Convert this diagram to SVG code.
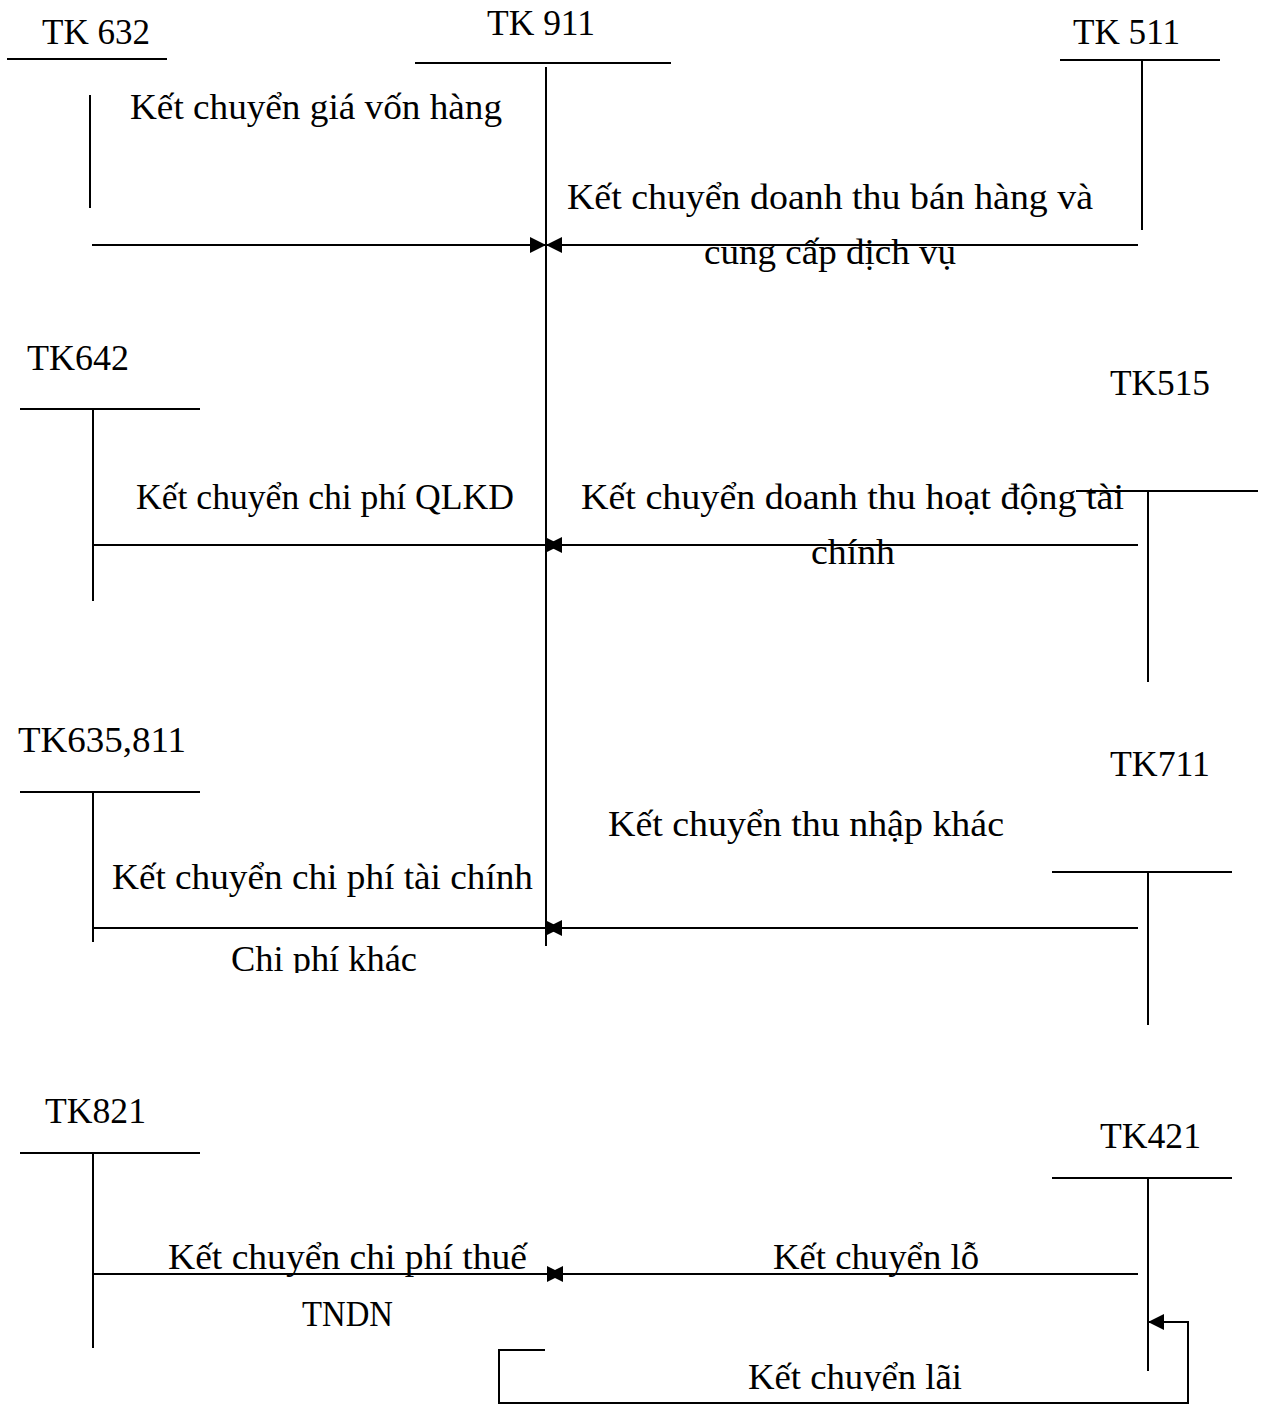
<svg xmlns="http://www.w3.org/2000/svg" width="1265" height="1405" viewBox="0 0 1265 1405">
  <style>
    .ln { stroke: #000; stroke-width: 2; fill: none; }
    .t { font-family: "Liberation Serif", "DejaVu Serif", serif; font-size: 35px; fill: #000; }
  </style>
  <defs>
    <marker id="arr" viewBox="0 0 16 16" refX="16" refY="8" markerWidth="16" markerHeight="16" markerUnits="userSpaceOnUse" orient="auto">
      <path d="M0,0 L16,8 L0,16 Z" fill="#000"/>
    </marker>
    <clipPath id="clipKhac"><rect x="0" y="900" width="600" height="73"/></clipPath>
    <clipPath id="clipLai"><rect x="500" y="1340" width="700" height="51"/></clipPath>
  </defs>
  <rect width="1265" height="1405" fill="#fff"/>

  <!-- T-accounts -->
  <g id="tk632">
    <text class="t" x="42" y="44" textLength="108" lengthAdjust="spacingAndGlyphs">TK 632</text>
    <line class="ln" x1="7" y1="59" x2="167" y2="59"/>
    <line class="ln" x1="90" y1="95" x2="90" y2="208"/>
  </g>
  <g id="tk911">
    <text class="t" x="487" y="35" textLength="108" lengthAdjust="spacingAndGlyphs">TK 911</text>
    <line class="ln" x1="415" y1="63" x2="671" y2="63"/>
    <line class="ln" x1="546" y1="67" x2="546" y2="946"/>
  </g>
  <g id="tk511">
    <text class="t" x="1073" y="44" textLength="107" lengthAdjust="spacingAndGlyphs">TK 511</text>
    <line class="ln" x1="1060" y1="60" x2="1220" y2="60"/>
    <line class="ln" x1="1142" y1="60" x2="1142" y2="230"/>
  </g>
  <g id="tk642">
    <text class="t" x="27" y="370" textLength="102" lengthAdjust="spacingAndGlyphs">TK642</text>
    <line class="ln" x1="20" y1="409" x2="200" y2="409"/>
    <line class="ln" x1="93" y1="409" x2="93" y2="601"/>
  </g>
  <g id="tk515">
    <text class="t" x="1110" y="395" textLength="100" lengthAdjust="spacingAndGlyphs">TK515</text>
    <line class="ln" x1="1076" y1="491" x2="1258" y2="491"/>
    <line class="ln" x1="1148" y1="491" x2="1148" y2="682"/>
  </g>
  <g id="tk635">
    <text class="t" x="18" y="752" textLength="168" lengthAdjust="spacingAndGlyphs">TK635,811</text>
    <line class="ln" x1="20" y1="792" x2="200" y2="792"/>
    <line class="ln" x1="93" y1="792" x2="93" y2="942"/>
  </g>
  <g id="tk711">
    <text class="t" x="1110" y="776" textLength="100" lengthAdjust="spacingAndGlyphs">TK711</text>
    <line class="ln" x1="1052" y1="872" x2="1232" y2="872"/>
    <line class="ln" x1="1148" y1="872" x2="1148" y2="1025"/>
  </g>
  <g id="tk821">
    <text class="t" x="45" y="1123" textLength="101" lengthAdjust="spacingAndGlyphs">TK821</text>
    <line class="ln" x1="20" y1="1153" x2="200" y2="1153"/>
    <line class="ln" x1="93" y1="1153" x2="93" y2="1348"/>
  </g>
  <g id="tk421">
    <text class="t" x="1100" y="1148" textLength="101" lengthAdjust="spacingAndGlyphs">TK421</text>
    <line class="ln" x1="1052" y1="1178" x2="1232" y2="1178"/>
    <line class="ln" x1="1148" y1="1178" x2="1148" y2="1371"/>
  </g>

  <!-- transfer entries -->
  <g id="connectors">
    <line class="ln" x1="92" y1="245" x2="546" y2="245" marker-end="url(#arr)"/>
    <line class="ln" x1="1138" y1="245" x2="546" y2="245" marker-end="url(#arr)"/>
    <line class="ln" x1="93" y1="545" x2="561" y2="545" marker-end="url(#arr)"/>
    <line class="ln" x1="1138" y1="545" x2="546" y2="545" marker-end="url(#arr)"/>
    <line class="ln" x1="93" y1="928" x2="561" y2="928" marker-end="url(#arr)"/>
    <line class="ln" x1="1138" y1="928" x2="546" y2="928" marker-end="url(#arr)"/>
    <line class="ln" x1="93" y1="1274" x2="563" y2="1274" marker-end="url(#arr)"/>
    <line class="ln" x1="1138" y1="1274" x2="547" y2="1274" marker-end="url(#arr)"/>
    <polyline class="ln" points="545,1350 499,1350 499,1403 1188,1403 1188,1322 1148,1322" marker-end="url(#arr)"/>
  </g>

  <!-- entry labels -->
  <g id="labels">
    <text class="t" x="130" y="119" textLength="372" lengthAdjust="spacingAndGlyphs">Kết chuyển giá vốn hàng</text>
    <text class="t" x="567" y="209" textLength="526" lengthAdjust="spacingAndGlyphs">Kết chuyển doanh thu bán hàng và</text>
    <text class="t" x="704" y="264" textLength="252" lengthAdjust="spacingAndGlyphs">cung cấp dịch vụ</text>
    <text class="t" x="136" y="509" textLength="378" lengthAdjust="spacingAndGlyphs">Kết chuyển chi phí QLKD</text>
    <text class="t" x="581" y="509" textLength="543" lengthAdjust="spacingAndGlyphs">Kết chuyển doanh thu hoạt động tài</text>
    <text class="t" x="811" y="564" textLength="84" lengthAdjust="spacingAndGlyphs">chính</text>
    <text class="t" x="608" y="836" textLength="396" lengthAdjust="spacingAndGlyphs">Kết chuyển thu nhập khác</text>
    <text class="t" x="112" y="889" textLength="421" lengthAdjust="spacingAndGlyphs">Kết chuyển chi phí tài chính</text>
    <text class="t" x="231" y="971" textLength="186" lengthAdjust="spacingAndGlyphs" clip-path="url(#clipKhac)">Chi phí khác</text>
    <text class="t" x="168" y="1269" textLength="359" lengthAdjust="spacingAndGlyphs">Kết chuyển chi phí thuế</text>
    <text class="t" x="302" y="1326" textLength="91" lengthAdjust="spacingAndGlyphs">TNDN</text>
    <text class="t" x="773" y="1269" textLength="206" lengthAdjust="spacingAndGlyphs">Kết chuyển lỗ</text>
    <text class="t" x="748" y="1389" textLength="214" lengthAdjust="spacingAndGlyphs" clip-path="url(#clipLai)">Kết chuyển lãi</text>
  </g>
</svg>
